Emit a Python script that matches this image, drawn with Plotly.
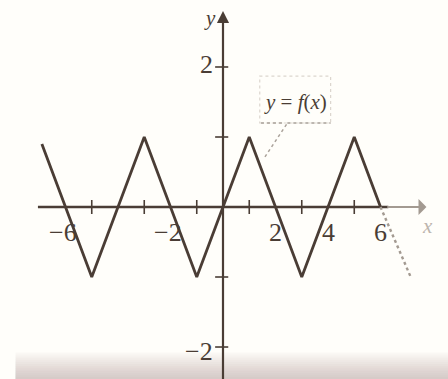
import plotly.graph_objects as go

# Vertices of the periodic triangle wave y = f(x)
x_pts = [-6.9, -5, -3, -1, 1, 3, 5, 6, 7.15]
y_pts = [0.9, -1, 1, -1, 1, -1, 1, 0, -1.0]

# Tick marks along the axes
x_tick_pos = [-5, -3, -1, 1, 3, 5]
y_tick_pos = [-2, -1, 1, 2]

# Tick labels
x_label_vals = [-6, -2, 2, 4, 6]
x_label_text = ["\u22126", "\u22122", "2", "4", "6"]
y_label_vals = [2, -2]
y_label_text = ["2", "\u22122"]

INK = "#4a3d35"
FADED = "#a39a91"
SERIF = "Liberation Serif, Times New Roman, serif"

fig = go.Figure()

# tick marks on the x-axis
tx, ty = [], []
for v in x_tick_pos:
    tx += [v, v, None]
    ty += [0.1, -0.1, None]
fig.add_trace(go.Scatter(x=tx, y=ty, mode="lines",
                         line=dict(color=INK, width=1.6),
                         hoverinfo="skip", showlegend=False))

# tick marks on the y-axis
ux, uy = [], []
for v in y_tick_pos:
    ux += [-0.3, 0.2, None]
    uy += [v, v, None]
fig.add_trace(go.Scatter(x=ux, y=uy, mode="lines",
                         line=dict(color=INK, width=1.6),
                         hoverinfo="skip", showlegend=False))

# x-axis: solid part, then a fainter stretch towards the arrow
fig.add_trace(go.Scatter(x=[-7.05, 6.3], y=[0, 0], mode="lines",
                         line=dict(color=INK, width=2.4),
                         hoverinfo="skip", showlegend=False))

# the curve
fig.add_trace(go.Scatter(x=x_pts[:-1], y=y_pts[:-1], mode="lines",
                         line=dict(color=INK, width=2.8),
                         hoverinfo="skip", showlegend=False))
fig.add_trace(go.Scatter(x=x_pts[-2:], y=y_pts[-2:], mode="lines",
                         line=dict(color=FADED, width=2.4, dash="dot"),
                         hoverinfo="skip", showlegend=False))

annotations = []
# faint end of the x-axis with arrow
annotations.append(dict(x=7.75, y=0, ax=6.2, ay=0, xref="x", yref="y",
                        axref="x", ayref="y", showarrow=True, arrowhead=1,
                        arrowsize=1.2, arrowwidth=2.2, arrowcolor=FADED, text=""))
# y-axis with arrow
annotations.append(dict(x=0, y=2.8, ax=0, ay=-2.6, xref="x", yref="y",
                        axref="x", ayref="y", showarrow=True, arrowhead=2,
                        arrowsize=1.1, arrowwidth=2.2, arrowcolor=INK, text=""))

for v, t in zip(x_label_vals, x_label_text):
    annotations.append(dict(x=v - (0.1 if v < 0 else 0), y=-0.36, text=t,
                            showarrow=False, xanchor="center", yanchor="middle",
                            font=dict(family=SERIF, size=26, color=INK)))
for v, t in zip(y_label_vals, y_label_text):
    annotations.append(dict(x=-0.3, y=v + (0.03 if v > 0 else -0.07), text=t,
                            showarrow=False, xanchor="right", yanchor="middle",
                            font=dict(family=SERIF, size=26, color=INK)))

# axis names
annotations.append(dict(x=-0.5, y=2.7, text="<i>y</i>", showarrow=False,
                        font=dict(family=SERIF, size=21, color=INK)))
annotations.append(dict(x=7.78, y=-0.27, text="<i>x</i>", showarrow=False,
                        font=dict(family=SERIF, size=21, color="#bdb5ad")))

# curve label
annotations.append(dict(x=2.75, y=1.5, text="<i>y</i> = <i>f</i>(<i>x</i>)",
                        showarrow=False, xanchor="center", yanchor="middle",
                        font=dict(family=SERIF, size=21, color=INK)))

shapes = [
    dict(type="rect", x0=1.4, x1=4.1, y0=1.2, y1=1.87, xref="x", yref="y",
         line=dict(color="#dcd6ce", width=1.2, dash="dot"), layer="below"),
    dict(type="line", x0=1.45, x1=2.35, y0=1.2, y1=1.2, xref="x", yref="y",
         line=dict(color="#a8a098", width=1.5, dash="dot")),
    dict(type="line", x0=2.45, x1=4.1, y0=1.2, y1=1.2, xref="x", yref="y",
         line=dict(color="#a8a098", width=1.5, dash="dot")),
    dict(type="line", x0=2.42, x1=1.57, y0=1.18, y1=0.7, xref="x", yref="y",
         line=dict(color="#aaa29a", width=1.5, dash="dot")),
]

# soft page shading along the lower edge, built from thin translucent strips
n_strips = 14
top, bottom = -2.08, -2.46
for i in range(n_strips):
    y0 = top + (bottom - top) * i / n_strips
    y1 = top + (bottom - top) * (i + 1) / n_strips
    shapes.append(dict(type="rect", xref="x", yref="y", x0=-7.9, x1=8.6,
                       y0=y0, y1=y1, line=dict(width=0),
                       fillcolor="rgb(150,143,137)", opacity=0.05,
                       layer="below"))
    # strips overlap cumulatively towards the bottom
    shapes.append(dict(type="rect", xref="x", yref="y", x0=-7.9, x1=8.6,
                       y0=y1, y1=bottom, line=dict(width=0),
                       fillcolor="rgb(150,143,137)", opacity=0.03,
                       layer="below"))

fig.update_layout(
    width=448, height=379,
    margin=dict(l=0, r=0, t=0, b=0),
    paper_bgcolor="#fffefa", plot_bgcolor="#fffefa",
    xaxis=dict(range=[-8.495, 8.571], visible=False, fixedrange=True),
    yaxis=dict(range=[-2.457, 2.957], visible=False, fixedrange=True),
    annotations=annotations, shapes=shapes,
    showlegend=False,
)

fig.write_html("out.html")
